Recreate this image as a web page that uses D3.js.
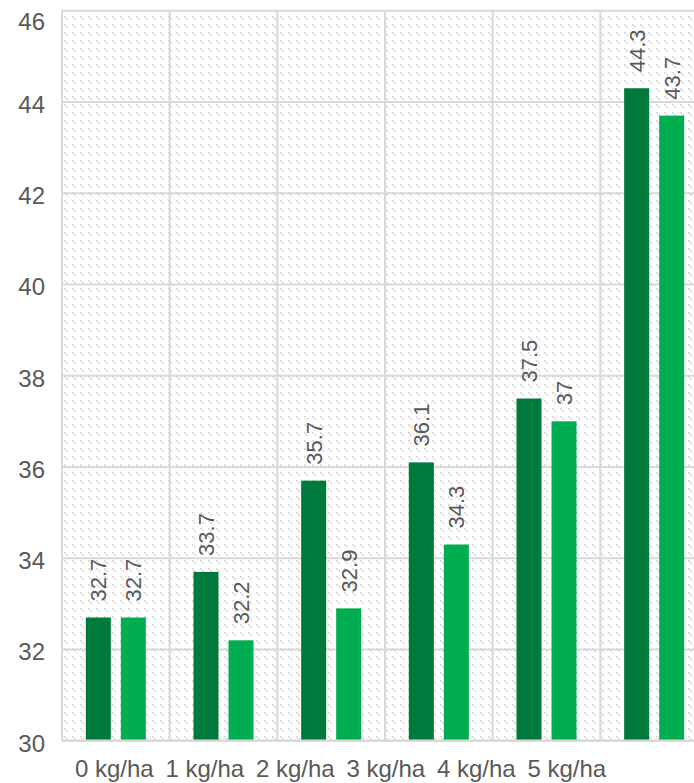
<!DOCTYPE html>
<html>
<head>
<meta charset="utf-8">
<script src="https://cdn.jsdelivr.net/npm/d3@7"></script>
<style>
  html, body { margin: 0; padding: 0; background: #fff; }
  svg { display: block; font-family: "Liberation Sans", Arial, sans-serif; }
</style>
</head>
<body>
<svg id="chart" width="694" height="783"></svg>
<script>
// Application rates shown along the x axis
const categories = ["0 kg/ha", "1 kg/ha", "2 kg/ha", "3 kg/ha", "4 kg/ha", "5 kg/ha"];
const bandKeys = ["g0", "g1", "g2", "g3", "g4", "g5"];
// Two series per rate
const seriesNames = ["A", "B"];
const seriesA = [32.7, 33.7, 35.7, 36.1, 37.5, 44.3];
const seriesB = [32.7, 32.2, 32.9, 34.3, 37, 43.7];
const yTicks = [30, 32, 34, 36, 38, 40, 42, 44, 46];

const colors = { A: "#00793d", B: "#00ad50" };
const textColor = "#595959";
const gridColor = "#d9d9d9";

const svg = d3.select("#chart");
const plot = { left: 62, right: 708, top: 10.7, bottom: 740.7 };

// Dotted diagonal hatch for the plot background
const defs = svg.append("defs");
const pat = defs.append("pattern")
  .attr("id", "hatch").attr("patternUnits", "userSpaceOnUse")
  .attr("width", 8).attr("height", 8);
pat.append("rect").attr("width", 8).attr("height", 8).attr("fill", "#fff");
[[0, 0, 2, 0.8], [2, 2, 2, 0.7], [4.5, 4.5, 1.2, 0.4]].forEach(([px, py, s, o]) => {
  pat.append("rect").attr("x", px).attr("y", py)
    .attr("width", s).attr("height", s)
    .attr("fill", "#d4d4d4").attr("opacity", o);
});

svg.append("rect")
  .attr("x", plot.left).attr("y", plot.top)
  .attr("width", plot.right - plot.left).attr("height", plot.bottom - plot.top)
  .attr("fill", "url(#hatch)");

const y = d3.scaleLinear().domain([30, 46]).range([plot.bottom, plot.top]);
const x0 = d3.scaleBand().domain(bandKeys).range([plot.left, plot.right]).padding(0);
const x1 = d3.scaleBand().domain(seriesNames).range([0, x0.bandwidth()])
  .paddingInner(0.2857).paddingOuter(0.68);
// Category labels sit on their own, tighter spacing
const xl = d3.scaleBand().domain(categories).range([69, 612]).padding(0);

// Horizontal grid lines
svg.append("g").selectAll("line").data(yTicks).join("line")
  .attr("x1", plot.left).attr("x2", plot.right)
  .attr("y1", d => y(d)).attr("y2", d => y(d))
  .attr("stroke", gridColor).attr("stroke-width", 2);

// Vertical grid lines between groups
svg.append("g").selectAll("line").data(bandKeys).join("line")
  .attr("x1", d => x0(d)).attr("x2", d => x0(d))
  .attr("y1", plot.top).attr("y2", plot.bottom)
  .attr("stroke", gridColor).attr("stroke-width", 2);

// Bars
const rows = bandKeys.map((k, i) => ({ key: k, A: seriesA[i], B: seriesB[i] }));
const groups = svg.append("g").selectAll("g").data(rows).join("g")
  .attr("transform", d => `translate(${x0(d.key)},0)`);

groups.selectAll("rect")
  .data(d => seriesNames.map(s => ({ s, v: d[s] })))
  .join("rect")
  .attr("x", d => x1(d.s))
  .attr("width", x1.bandwidth())
  .attr("y", d => y(d.v))
  .attr("height", d => y(30) - y(d.v))
  .attr("fill", d => colors[d.s]);

// Value labels, rotated above each bar
groups.selectAll("text")
  .data(d => seriesNames.map(s => ({ s, v: d[s] })))
  .join("text")
  .attr("transform", d => `translate(${x1(d.s) + x1.bandwidth() / 2},${y(d.v) - 16}) rotate(-90)`)
  .attr("dy", "0.36em")
  .attr("text-anchor", "start")
  .attr("font-size", 22)
  .attr("fill", textColor)
  .text(d => d.v);

// Bottom axis line
svg.append("line")
  .attr("x1", plot.left).attr("x2", plot.right)
  .attr("y1", plot.bottom).attr("y2", plot.bottom)
  .attr("stroke", gridColor).attr("stroke-width", 2.5);

// Y axis labels
const yAxis = d3.axisLeft(y).tickValues(yTicks).tickSize(0).tickPadding(0);
const yg = svg.append("g").attr("transform", "translate(45,0)").call(yAxis);
yg.select(".domain").remove();
yg.selectAll("text")
  .attr("font-size", 24).attr("fill", textColor)
  .attr("font-family", "Liberation Sans, Arial, sans-serif")
  .attr("dy", "0.45em");
yg.selectAll(".tick").attr("transform", d => `translate(0,${Math.max(y(d), plot.top + 8)})`);

// X axis labels
const xAxis = d3.axisBottom(xl).tickSize(0).tickPadding(0);
const xg = svg.append("g").attr("transform", "translate(0,777)").call(xAxis);
xg.select(".domain").remove();
xg.selectAll("text")
  .attr("font-size", 24).attr("fill", textColor)
  .attr("font-family", "Liberation Sans, Arial, sans-serif")
  .attr("dy", 0).attr("y", 0);
</script>
</body>
</html>
